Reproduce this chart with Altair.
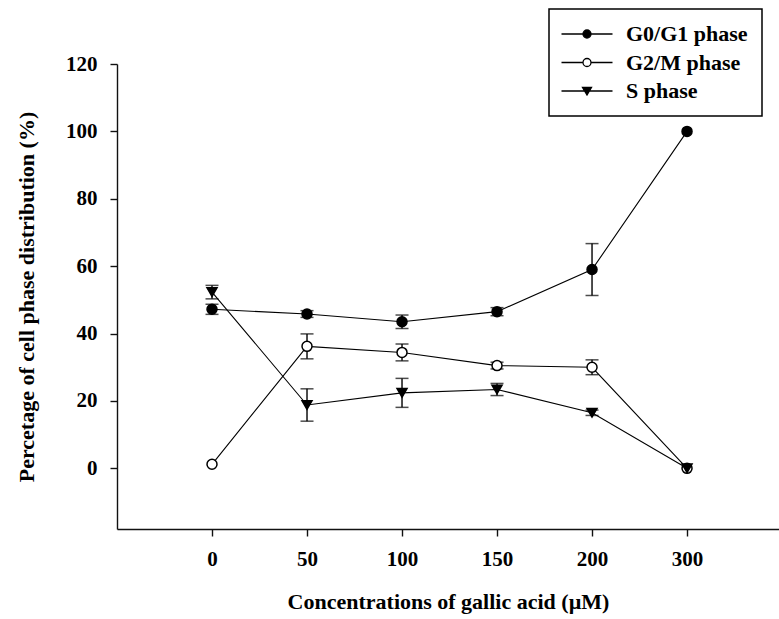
import altair as alt
import pandas as pd

concentrations = ["0", "50", "100", "150", "200", "300"]
phases = ["G0/G1 phase", "G2/M phase", "S phase"]

g0g1 = [47.2, 45.8, 43.5, 46.5, 59.0, 100.0]
g0g1_err = [1.5, 1.0, 2.0, 1.2, 7.7, 0.0]
g2m = [1.2, 36.2, 34.4, 30.5, 30.0, 0.0]
g2m_err = [0.0, 3.7, 2.5, 1.0, 2.2, 0.0]
s_phase = [52.3, 18.8, 22.4, 23.4, 16.5, 0.0]
s_err = [2.0, 4.8, 4.3, 1.8, 0.8, 0.0]

rows = []
for ph, vals, errs in [(phases[0], g0g1, g0g1_err), (phases[1], g2m, g2m_err), (phases[2], s_phase, s_err)]:
    for i, (v, e) in enumerate(zip(vals, errs)):
        rows.append({"idx": i, "conc": concentrations[i], "phase": ph, "value": v,
                     "lo": v - e, "hi": v + e, "err": e})
df = pd.DataFrame(rows)

FONT = "Liberation Serif"
label_expr = "[" + ",".join("'%s'" % c for c in concentrations) + "][datum.value]"

x = alt.X("idx:Q",
          scale=alt.Scale(domain=[-1, 5.968], nice=False, zero=False),
          axis=alt.Axis(values=list(range(len(concentrations))), labelExpr=label_expr,
                        title="Concentrations of  gallic acid (\u00b5M)",
                        grid=False, tickSize=7, labelPadding=29, labelBaseline="alphabetic",
                        labelFont=FONT, labelFontSize=21, labelFontWeight="bold", labelColor="black",
                        titleFont=FONT, titleFontSize=22, titleFontWeight="bold", titleColor="black",
                        titleX=331, titleY=79, titleBaseline="alphabetic", titleAlign="center",
                        domainColor="#111", domainWidth=1.4, tickColor="#111", tickWidth=1.4))
y_scale = alt.Scale(domain=[-18, 120], nice=False, zero=False)
y = alt.Y("value:Q", scale=y_scale,
          axis=alt.Axis(values=[0, 20, 40, 60, 80, 100, 120], title="Percetage of cell phase distribution (%)",
                        grid=False, tickSize=7, labelPadding=13,
                        labelFont=FONT, labelFontSize=21, labelFontWeight="bold", labelColor="black",
                        titleFont=FONT, titleFontSize=22, titleFontWeight="bold", titleColor="black",
                        titleX=-84, titleY=232.5, titleAngle=270, titleBaseline="alphabetic", titleAlign="center",
                        domainColor="#111", domainWidth=1.4, tickColor="#111", tickWidth=1.4))

base = alt.Chart(df)

lines = base.mark_line(color="black", strokeWidth=1.1).encode(
    x=x, y=y, detail="phase:N", order="idx:Q")

err = base.transform_filter("datum.err > 0")
rules = err.mark_rule(color="black", strokeWidth=1.4).encode(
    x="idx:Q", y=alt.Y("lo:Q", scale=y_scale), y2="hi:Q")
caps_lo = err.mark_tick(orient="horizontal", color="black", size=13, thickness=1.5).encode(
    x="idx:Q", y=alt.Y("lo:Q", scale=y_scale))
caps_hi = err.mark_tick(orient="horizontal", color="black", size=13, thickness=1.5).encode(
    x="idx:Q", y=alt.Y("hi:Q", scale=y_scale))

points = base.mark_point(stroke="black", strokeWidth=1.5, opacity=1, fillOpacity=1).encode(
    x="idx:Q", y=alt.Y("value:Q", scale=y_scale),
    shape=alt.Shape("phase:N", scale=alt.Scale(domain=phases, range=["circle", "circle", "triangle-down"]), legend=None),
    fill=alt.Fill("phase:N", scale=alt.Scale(domain=phases, range=["black", "white", "black"]), legend=None),
    size=alt.Size("phase:N", scale=alt.Scale(domain=phases, range=[100, 100, 160]), legend=None),
)

legend_paths = [
    "M-5.1,0H5.1M0.8,0A0.8,0.8,0,1,1,-0.8,0A0.8,0.8,0,1,1,0.8,0Z",
    "M-5.1,0H-0.8M0.8,0H5.1M0.8,0A0.8,0.8,0,1,1,-0.8,0A0.8,0.8,0,1,1,0.8,0Z",
    "M-5.1,0H5.1M-0.9,-0.7H0.9L0,0.8Z",
]
leg_kwargs = dict(orient="none", legendX=432, legendY=-55, title=None, strokeColor="black",
                  padding=14, symbolOffset=13, labelOffset=28, rowPadding=6.5, symbolSize=100,
                  symbolStrokeColor="black", symbolStrokeWidth=1.3,
                  labelFont=FONT, labelFontSize=22, labelFontWeight="bold", labelColor="black")
legend_layer = base.transform_filter("datum.phase == 'none'").mark_point(
    strokeWidth=1.3, opacity=1, fillOpacity=1, size=100).encode(
    x="idx:Q", y=alt.Y("value:Q", scale=y_scale),
    shape=alt.Shape("phase:N", scale=alt.Scale(domain=phases, range=legend_paths), legend=alt.Legend(**leg_kwargs)),
    fill=alt.Fill("phase:N", scale=alt.Scale(domain=phases, range=["black", "white", "black"]), legend=alt.Legend(**leg_kwargs)),
    stroke=alt.Stroke("phase:N", scale=alt.Scale(domain=phases, range=["black", "black", "black"]), legend=alt.Legend(**leg_kwargs)),
)

chart = alt.layer(lines, rules, caps_lo, caps_hi, points, legend_layer).resolve_scale(
    shape="independent", fill="independent", size="independent", stroke="independent"
).properties(
    width=662, height=465, autosize="none",
    padding={"left": 117, "top": 64, "right": 0, "bottom": 90},
    background="white",
).configure_view(strokeWidth=0).configure_legend(strokeWidth=1.5)

chart.save("out.html", embed_options={"renderer": "svg", "actions": False})
